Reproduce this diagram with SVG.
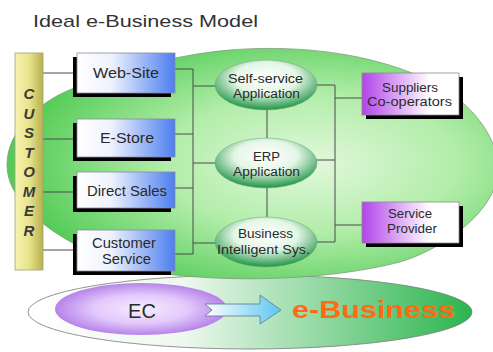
<svg xmlns="http://www.w3.org/2000/svg" width="493" height="352" viewBox="0 0 493 352">
<defs>
<radialGradient id="gBig" cx="62%" cy="50%" r="60%">
<stop offset="0" stop-color="#e2f8dc"/>
<stop offset="0.5" stop-color="#b2eda9"/>
<stop offset="1" stop-color="#55cc58"/>
</radialGradient>
<linearGradient id="gBottom" x1="0" y1="0" x2="1" y2="0">
<stop offset="0" stop-color="#ffffff"/>
<stop offset="0.35" stop-color="#eef8ee"/>
<stop offset="1" stop-color="#2cb54e"/>
</linearGradient>
<radialGradient id="gEC" cx="50%" cy="50%" r="55%">
<stop offset="0" stop-color="#f6eeff"/>
<stop offset="0.5" stop-color="#e2c8fb"/>
<stop offset="1" stop-color="#ad74e6"/>
</radialGradient>
<linearGradient id="gArrow" x1="0" y1="0" x2="1" y2="0">
<stop offset="0" stop-color="#ffffff"/>
<stop offset="1" stop-color="#5cc6f2"/>
</linearGradient>
<linearGradient id="gBar" x1="0" y1="0" x2="1" y2="0">
<stop offset="0" stop-color="#f6f4b0"/>
<stop offset="0.5" stop-color="#e8e48c"/>
<stop offset="1" stop-color="#b8b050"/>
</linearGradient>
<linearGradient id="gBlue" x1="0" y1="0" x2="1" y2="0">
<stop offset="0" stop-color="#ffffff"/>
<stop offset="0.35" stop-color="#eef2fd"/>
<stop offset="1" stop-color="#4c7ef0"/>
</linearGradient>
<linearGradient id="gPurple" x1="0" y1="0" x2="1" y2="0">
<stop offset="0" stop-color="#b244ea"/>
<stop offset="0.7" stop-color="#ffffff"/>
<stop offset="1" stop-color="#ffffff"/>
</linearGradient>
<radialGradient id="gOval" cx="50%" cy="36%" r="62%">
<stop offset="0" stop-color="#ffffff"/>
<stop offset="0.5" stop-color="#e4f6e6"/>
<stop offset="1" stop-color="#2a9a4e"/>
</radialGradient>
<style>
.t{font-family:"Liberation Sans",Arial,sans-serif;fill:#2a2a2a;text-anchor:middle}
.bx{font-size:14px}
.ov{font-size:12px}
.pu{font-size:12.5px}
.cu{font-family:"Liberation Sans",Arial,sans-serif;font-size:15px;font-style:italic;font-weight:bold;fill:#3a3a3a;text-anchor:middle}
.ln{stroke:#4a4a4a;stroke-width:1;fill:none}
.blue{fill:url(#gBlue);stroke:#8a8a9a;stroke-width:0.8}
.pur{fill:url(#gPurple);stroke:#8a8a8a;stroke-width:0.8}
.sh{fill:#000}
.oval{fill:url(#gOval);stroke:#6aa77a;stroke-width:0.5}
</style>
</defs>
<rect width="493" height="352" fill="#ffffff"/>
<text x="33" y="27" font-family="Liberation Sans,Arial,sans-serif" font-size="17" fill="#333" textLength="225" lengthAdjust="spacingAndGlyphs">Ideal e-Business Model</text>

<g id="bottom">
<ellipse cx="250" cy="312" rx="222" ry="37" fill="url(#gBottom)" stroke="#7a7a7a" stroke-width="0.8"/>
</g>
<g id="ebiz-zone">
<path d="M7,165 C7,130 40,100 77,87 C115,73 170,55 230,50 C330,42 420,65 463,103 C485,122 510,160 492,193 C480,220 440,250 400,262 C330,280 240,282 175,275 C90,265 7,215 7,165 Z" fill="url(#gBig)" stroke="#7d9c7d" stroke-width="0.8"/>
</g>

<g id="connectors">
<path class="ln" d="M43,73 H77 M43,139 H77 M43,192 H77 M43,250 H77"/>
<path class="ln" d="M175,69 H193 M175,134 H193 M175,188 H193 M175,254 H193 M193,69 V254"/>
<path class="ln" d="M193,86 H216 M193,163 H216 M193,243 H216"/>
<path class="ln" d="M267,110 V138 M267,188 V217"/>
<path class="ln" d="M316,85 H335 M316,160 H335 M316,242 H335 M335,85 V242 M335,98 H362 M335,225 H362"/>
</g>

<g id="customer">
<rect x="15" y="53" width="28" height="217" fill="url(#gBar)" stroke="#a0a070" stroke-width="0.8"/>
<text class="cu" x="29" y="99">C</text>
<text class="cu" x="29" y="118.5">U</text>
<text class="cu" x="29" y="138">S</text>
<text class="cu" x="29" y="157.5">T</text>
<text class="cu" x="29" y="177">O</text>
<text class="cu" x="29" y="196.5">M</text>
<text class="cu" x="29" y="216">E</text>
<text class="cu" x="29" y="235.5">R</text>
</g>

<g id="web-site">
<rect class="sh" x="73" y="57" width="98" height="40"/>
<rect class="blue" x="77" y="53" width="98" height="40"/>
<text class="t bx" x="126" y="78" textLength="66" lengthAdjust="spacingAndGlyphs">Web-Site</text>
</g>
<g id="e-store">
<rect class="sh" x="73" y="123" width="98" height="38"/>
<rect class="blue" x="77" y="119" width="98" height="38"/>
<text class="t bx" x="127" y="143" textLength="54" lengthAdjust="spacingAndGlyphs">E-Store</text>
</g>
<g id="direct-sales">
<rect class="sh" x="73" y="176" width="98" height="36"/>
<rect class="blue" x="77" y="172" width="98" height="36"/>
<text class="t bx" x="127" y="196" textLength="80" lengthAdjust="spacingAndGlyphs">Direct Sales</text>
</g>
<g id="customer-service">
<rect class="sh" x="73" y="234" width="98" height="41"/>
<rect class="blue" x="77" y="230" width="98" height="41"/>
<text class="t bx" x="124" y="248" textLength="64" lengthAdjust="spacingAndGlyphs">Customer</text>
<text class="t bx" x="126.5" y="264" textLength="49" lengthAdjust="spacingAndGlyphs">Service</text>
</g>

<g id="self-service">
<ellipse class="oval" cx="266" cy="85" rx="51" ry="25"/>
<text class="t ov" x="265.5" y="83" textLength="75" lengthAdjust="spacingAndGlyphs">Self-service</text>
<text class="t ov" x="266.5" y="98" textLength="67" lengthAdjust="spacingAndGlyphs">Application</text>
</g>
<g id="erp">
<ellipse class="oval" cx="266" cy="163" rx="51" ry="25"/>
<text class="t ov" x="266.5" y="161" textLength="27" lengthAdjust="spacingAndGlyphs">ERP</text>
<text class="t ov" x="266.5" y="176" textLength="67" lengthAdjust="spacingAndGlyphs">Application</text>
</g>
<g id="bi">
<ellipse class="oval" cx="266" cy="242" rx="51" ry="25"/>
<text class="t ov" x="265.5" y="238" textLength="55" lengthAdjust="spacingAndGlyphs">Business</text>
<text class="t ov" x="263.5" y="254" textLength="93" lengthAdjust="spacingAndGlyphs">Intelligent Sys.</text>
</g>

<g id="suppliers">
<rect class="sh" x="366" y="77" width="97" height="42"/>
<rect class="pur" x="362" y="73" width="97" height="42"/>
<text class="t pu" x="410" y="92" textLength="56" lengthAdjust="spacingAndGlyphs">Suppliers</text>
<text class="t pu" x="409.5" y="106" textLength="85" lengthAdjust="spacingAndGlyphs">Co-operators</text>
</g>
<g id="service-provider">
<rect class="sh" x="366" y="206" width="97" height="41"/>
<rect class="pur" x="362" y="202" width="97" height="41"/>
<text class="t pu" x="410" y="218" textLength="44" lengthAdjust="spacingAndGlyphs">Service</text>
<text class="t pu" x="412" y="233" textLength="50" lengthAdjust="spacingAndGlyphs">Provider</text>
</g>

<g id="ec">
<ellipse cx="141" cy="309" rx="86" ry="26" fill="url(#gEC)"/>
<text class="t" x="142" y="318" font-size="20" fill="#222">EC</text>
</g>
<g id="arrow">
<path d="M205,304 H260 V295 L281,310 L260,324 V316 H205 L212,310 Z" fill="url(#gArrow)" stroke="#5a7a8a" stroke-width="0.8"/>
</g>
<g id="e-business">
<text x="292" y="318" font-family="Liberation Sans,Arial,sans-serif" font-size="23" font-weight="bold" fill="#ff6a13" textLength="163" lengthAdjust="spacingAndGlyphs">e-Business</text>
</g>
</svg>
